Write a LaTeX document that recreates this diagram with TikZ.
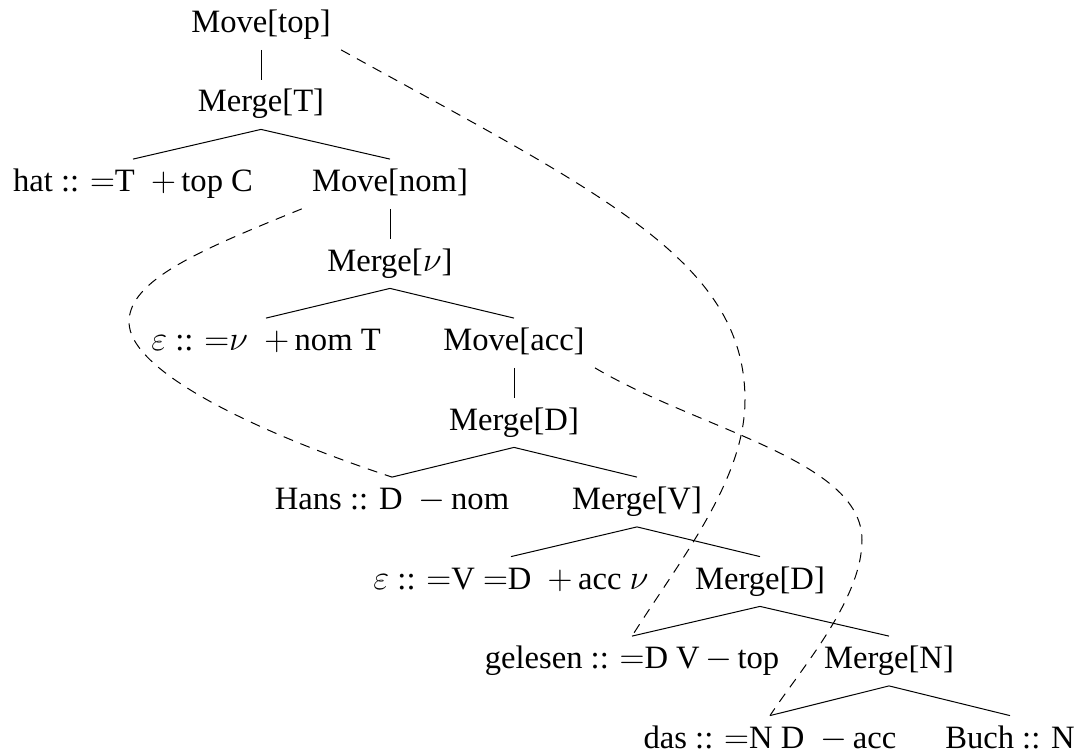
\documentclass[tikz,border=0pt]{standalone}
\usepackage{fontspec}
\setmainfont{Liberation Serif}
\tikzset{
  tn/.style={inner xsep=5pt, inner ysep=6pt, text height=10pt, text depth=2.5pt, font=\fontsize{16.3}{19}\selectfont},
  br/.style={line width=0.5pt},
  mv/.style={line width=0.5pt, dash pattern=on 5pt off 4pt}
}
\begin{document}
\begin{tikzpicture}[x=0.5pt,y=-0.5pt]
\useasboundingbox (0,0) rectangle (1078,755);
\node[tn] (movetop) at (261,25) {Move[top]};
\node[tn] (mergeT) at (261,104.5) {Merge[T]};
\node[tn] (hat) at (133,184) {hat :: $=$T\enspace$+$\,top C};
\node[tn] (movenom) at (390,184) {Move[nom]};
\node[tn] (mergev) at (390,263.5) {Merge[$\nu$]};
\node[tn] (eps1) at (266,343) {$\varepsilon$ :: ${=}\nu$\enspace$+$\,nom T};
\node[tn] (moveacc) at (514,343) {Move[acc]};
\node[tn] (mergeD1) at (514,422.5) {Merge[D]};
\node[tn] (hans) at (392,502) {Hans :: D\enspace$-$\,nom};
\node[tn] (mergeV) at (637,502) {Merge[V]};
\node[tn] (eps2) at (511,581.5) {$\varepsilon$ :: $=$V $=$D\enspace$+$\,acc $\nu$};
\node[tn] (mergeD2) at (760,581.5) {Merge[D]};
\node[tn] (gelesen) at (632,661) {gelesen :: $=$D V\,$-$\,top};
\node[tn] (mergeN) at (889,661) {Merge[N]};
\node[tn] (das) at (770,740.5) {das :: $=$N D\enspace$-$\,acc};
\node[tn] (buch) at (1010,740.5) {Buch :: N};
% tree edges
\draw[br] (movetop.south) -- (mergeT.north);
\draw[br] (hat.north) -- (mergeT.south) -- (movenom.north);
\draw[br] (movenom.south) -- (mergev.north);
\draw[br] (eps1.north) -- (mergev.south) -- (moveacc.north);
\draw[br] (moveacc.south) -- (mergeD1.north);
\draw[br] (hans.north) -- (mergeD1.south) -- (mergeV.north);
\draw[br] (eps2.north) -- (mergeV.south) -- (mergeD2.north);
\draw[br] (gelesen.north) -- (mergeD2.south) -- (mergeN.north);
\draw[br] (das.north) -- (mergeN.south) -- (buch.north);
% movement links
\draw[mv] (movetop.south east) .. controls (600,193) and (745,260) .. (745,400)
  .. controls (745,480) and (680,560) .. (gelesen.north);
\draw[mv] (movenom.south west) .. controls (200,250) and (129,280) .. (129,322)
  .. controls (129,370) and (250,430) .. (hans.north);
\draw[mv] (moveacc.south east) .. controls (700,430) and (862,460) .. (862,540)
  .. controls (862,600) and (800,670) .. (das.north);
\end{tikzpicture}
\end{document}
